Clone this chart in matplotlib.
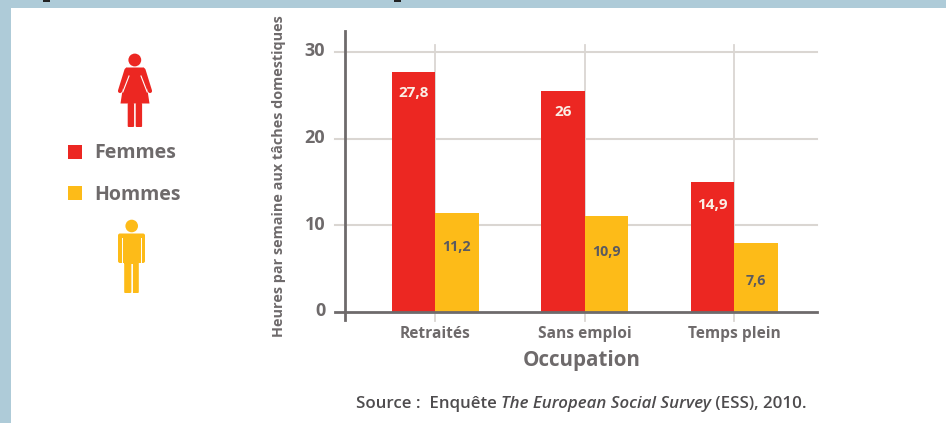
#!/usr/bin/env python3
"""Heures de taches domestiques par occupation, femmes et hommes"""

import numpy as np
import matplotlib
matplotlib.use("Agg")
import matplotlib.pyplot as plt
from matplotlib.patches import Rectangle, Circle, Polygon, FancyBboxPatch
from matplotlib.transforms import ScaledTranslation

categories = ["Retraités", "Sans emploi", "Temps plein"]
femmes = [27.7, 25.6, 15.0]   # bar heights as drawn in the picture
hommes = [11.5, 11.1, 8.0]
femmes_labels = ["27,8", "26", "14,9"]
hommes_labels = ["11,2", "10,9", "7,6"]
yticks = [0, 10, 20, 30]

RED = "#EC2722"
YELLOW = "#FDBB18"
GREY = "#6E6A6B"
GRID = "#DAD6D2"
BLUE = "#AECBD8"
W, H = 946, 423

plt.rcParams["font.family"] = ["Open Sans", "DejaVu Sans"]
plt.rcParams["font.weight"] = "bold"

fig = plt.figure(figsize=(W / 100, H / 100), dpi=100, facecolor=BLUE)

# overlay in pixel coordinates for the page, the pictograms and the legend
page = fig.add_axes([0, 0, 1, 1], zorder=0)
page.set_xlim(0, W)
page.set_ylim(H, 0)
page.axis("off")
page.add_patch(Rectangle((11, 8), W - 11, H - 8, color="white", lw=0))
page.add_patch(Rectangle((43, 0), 7, 2, color="#222222", lw=0))
page.add_patch(Rectangle((394, 0), 7, 2, color="#222222", lw=0))

# femme
page.add_patch(Circle((134.8, 60), 6.4, color=RED, lw=0))
page.add_patch(Polygon([(126, 67.5), (144, 67.5), (149.5, 103.5), (120.5, 103.5)], color=RED, lw=0))
page.plot([126.5, 120], [70, 91], color=RED, lw=3, solid_capstyle="round")
page.plot([143.5, 150], [70, 91], color=RED, lw=3, solid_capstyle="round")
page.plot([129, 122.8], [76, 92], color="white", lw=0.8)
page.plot([141, 147.2], [76, 92], color="white", lw=0.8)
for x in (128.7, 136.7):
    page.add_patch(FancyBboxPatch((x, 104), 4.4, 22, boxstyle="round,pad=1", color=RED, lw=0))

# homme
page.add_patch(Circle((131.7, 226), 6.3, color=YELLOW, lw=0))
page.add_patch(FancyBboxPatch((120, 235.5), 23, 25.5, boxstyle="round,pad=2", color=YELLOW, lw=0))
for x in (125.2, 132.8):
    page.add_patch(FancyBboxPatch((x, 258), 5, 34, boxstyle="round,pad=1", color=YELLOW, lw=0))
page.add_patch(Rectangle((124, 256), 14.4, 8, color=YELLOW, lw=0))
for x in (122, 141.2):
    page.plot([x, x], [238, 263.5], color="white", lw=0.7)
page.plot([131.6, 131.6], [264, 293], color="white", lw=0.7)

# legende
page.add_patch(Rectangle((67.5, 145), 14.5, 14.5, color=RED, lw=0))
page.add_patch(Rectangle((67.5, 186), 14.5, 14.5, color=YELLOW, lw=0))
page.text(94, 153.5, "Femmes", color=GREY, fontsize=14, va="center", ha="left")
page.text(94, 194.5, "Hommes", color=GREY, fontsize=14, va="center", ha="left")

# main chart: axes placed to the pixel
left, right, bottom, top = 344.7, 816.7, 312.0, 30.7
ax = fig.add_axes([left / W, 1 - bottom / H, (right - left) / W, (bottom - top) / H], zorder=1)
ax.patch.set_alpha(0)
x = np.arange(len(categories))
step = 149.5
bar_w = 43.5 / step
ax.set_xlim((left - 435) / step, (right - 435) / step)
ax.set_ylim(0, (bottom - top) / 8.65)

for y in yticks[1:]:
    ax.plot([-0.02, 1], [y, y], color=GRID, lw=1.5, zorder=1, clip_on=False,
            transform=ax.get_yaxis_transform())
for xi in x:
    ax.plot([xi, xi], [-1.0, 30.9], color=GRID, lw=1.3, zorder=1, clip_on=False)

ax.bar(x - bar_w / 2, femmes, bar_w, color=RED, zorder=2)
ax.bar(x + bar_w / 2, hommes, bar_w, color=YELLOW, zorder=2)

label_y_f = [25.3, 23.1, 12.4]
label_y_h = [7.5, 6.9, 3.6]
for xi, yv, s in zip(x, label_y_f, femmes_labels):
    ax.text(xi - bar_w / 2, yv, s, color="#FBEFE6", fontsize=11, ha="center", va="center")
for xi, yv, s in zip(x, label_y_h, hommes_labels):
    ax.text(xi + bar_w / 2, yv, s, color="#5A5A60", fontsize=10.3, ha="center", va="center")

for side in ("top", "right"):
    ax.spines[side].set_visible(False)
for side in ("left", "bottom"):
    ax.spines[side].set_color(GREY)
    ax.spines[side].set_linewidth(2)
ax.plot([0, 0], [-0.9, 0], color=GREY, lw=2, transform=ax.get_yaxis_transform(), clip_on=False)
ax.plot([-0.02, 0], [0, 0], color=GREY, lw=2, transform=ax.get_yaxis_transform(), clip_on=False)

ax.set_yticks(yticks)
ax.set_yticklabels([str(v) for v in yticks], color=GREY, fontsize=13)
ax.set_xticks(x)
ax.set_xticklabels(categories, color=GREY, fontsize=11.2)
ax.tick_params(axis="both", length=0)
ax.tick_params(axis="y", pad=14)
ax.tick_params(axis="x", pad=10)
# the tick numbers sit a little above their grid lines
shift = ScaledTranslation(0, 3 / 100, fig.dpi_scale_trans)
for lab in ax.get_yticklabels():
    lab.set_transform(lab.get_transform() + shift)

page.text(278.5, 176, "Heures par semaine aux tâches domestiques", color=GREY, fontsize=10.4,
          rotation=90, ha="center", va="center")
page.text(581.5, 360.5, "Occupation", color=GREY, fontsize=14.9, ha="center", va="center")

# source line, with the survey name in italics
renderer = fig.canvas.get_renderer()
pen = 356.0
for piece, style in [("Source :  Enquête ", "normal"), ("The European Social Survey", "italic"),
                     (" (ESS), 2010.", "normal")]:
    t = page.text(pen, 403.5, piece.replace(" ", "\u00a0"), color="#4E4C4E", fontsize=12.2,
                  weight="semibold", style=style, ha="left", va="center")
    pen += t.get_window_extent(renderer).width

fig.savefig("out.png", dpi=100, facecolor=BLUE)
